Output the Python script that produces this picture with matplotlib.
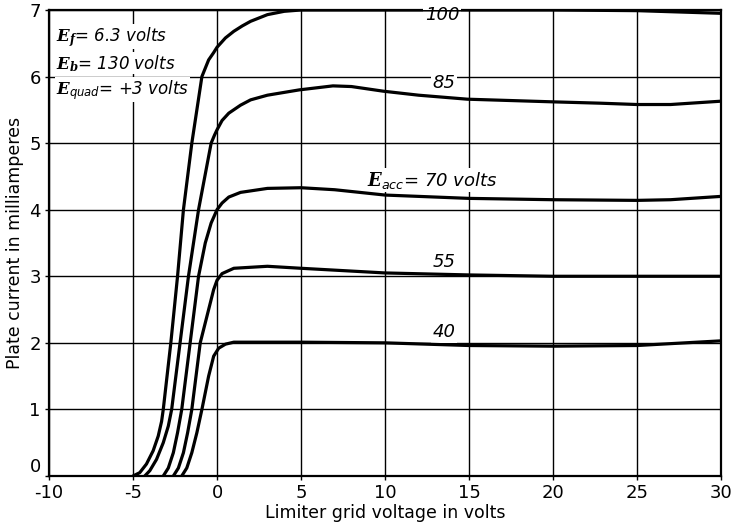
import matplotlib
matplotlib.use("Agg")
import matplotlib.pyplot as plt

# plate current (mA) vs limiter grid voltage (V), one curve per accelerator voltage
acc_volts = [100, 85, 70, 55, 40]

v100 = [-5.0, -4.6, -4.2, -3.8, -3.5, -3.3, -3.2, -2.75, -2.35, -2.0, -1.5, -0.9,
        -0.5, -0.2, 0.0, 0.5, 1.0, 1.5, 2.0, 3.0, 4.0, 5.0, 10, 15, 20, 25, 30]
i100 = [0.0, 0.05, 0.18, 0.38, 0.6, 0.82, 1.0, 2.0, 3.0, 4.0, 5.0, 6.0,
        6.25, 6.36, 6.44, 6.58, 6.68, 6.76, 6.83, 6.93, 6.98, 7.0, 7.0, 7.0, 7.0, 6.99, 6.95]

v85 = [-4.3, -4.0, -3.6, -3.2, -2.9, -2.7, -2.2, -1.7, -1.1, -0.35, -0.15, 0.0, 0.3,
       0.7, 1.4, 2.0, 3.0, 4.9, 6.9, 8.0, 9.9, 12, 14.9, 20, 22.8, 25, 27, 30]
i85 = [0.0, 0.08, 0.25, 0.5, 0.75, 1.0, 2.0, 3.0, 4.0, 5.0, 5.12, 5.2, 5.34,
       5.45, 5.57, 5.65, 5.72, 5.8, 5.86, 5.85, 5.78, 5.72, 5.66, 5.62, 5.6, 5.58, 5.58, 5.63]

v70 = [-3.2, -2.9, -2.6, -2.35, -2.1, -1.6, -1.1, -0.7, -0.35, 0.0, 0.3, 0.7,
       1.4, 3.0, 5.0, 7.0, 10, 15, 20, 25, 27, 30]
i70 = [0.0, 0.12, 0.35, 0.65, 1.0, 2.0, 3.0, 3.5, 3.8, 4.0, 4.1, 4.19,
       4.26, 4.32, 4.33, 4.3, 4.22, 4.17, 4.15, 4.14, 4.15, 4.2]

v55 = [-2.6, -2.3, -2.0, -1.75, -1.5, -1.0, -0.5, -0.2, 0.0, 0.3, 1.0, 3.0,
       5.0, 10, 15, 20, 25, 30]
i55 = [0.0, 0.12, 0.35, 0.65, 1.0, 2.0, 2.5, 2.8, 2.94, 3.04, 3.12, 3.15,
       3.12, 3.05, 3.02, 3.0, 3.0, 3.0]

v40 = [-2.1, -1.8, -1.5, -1.2, -0.9, -0.5, -0.2, 0.1, 0.5, 1.0, 5.0, 10, 15,
       20, 25, 30]
i40 = [0.0, 0.12, 0.35, 0.65, 1.0, 1.5, 1.8, 1.92, 1.98, 2.01, 2.01, 2.0, 1.96,
       1.95, 1.96, 2.03]

curves = [(v100, i100), (v85, i85), (v70, i70), (v55, i55), (v40, i40)]

# curve labels: text, x, y
curve_labels = ["100", "85", r"$E_{\mathrm{acc}}$= 70 volts", "55", "40"]
label_x = [13.4, 13.5, 12.8, 13.5, 13.5]
label_y = [6.92, 5.9, 4.44, 3.21, 2.16]

conditions = [r"$E_{f}$= 6.3 volts", r"$E_{b}$= 130 volts", r"$E_{\mathrm{quad}}$= +3 volts"]

xticks = [-10, -5, 0, 5, 10, 15, 20, 25, 30]
yticks = [0, 1, 2, 3, 4, 5, 6, 7]

plt.rcParams['mathtext.fontset'] = 'custom'
plt.rcParams['mathtext.it'] = 'DejaVu Serif:italic:bold'
plt.rcParams['mathtext.rm'] = 'DejaVu Sans:italic'

fig = plt.figure(figsize=(7.35, 5.31), dpi=100)
ax = fig.add_axes([0.0667, 0.1036, 0.9143, 0.8776])

for vx, iy in curves:
    ax.plot(vx, iy, color='black', lw=2.3, solid_capstyle='round', zorder=5)

ax.set_xlim(-10, 30)
ax.set_ylim(0, 7)
ax.set_xticks(xticks)
ax.set_yticks(yticks)
ax.set_xticklabels([str(t) for t in xticks], fontsize=13)
ax.set_yticklabels([str(t) for t in yticks], fontsize=13)
ax.get_yticklabels()[0].set_verticalalignment('bottom')
ax.tick_params(direction='out', length=3, width=1, pad=3)
ax.grid(True, color='black', lw=1.0)
ax.set_axisbelow(True)
for s in ax.spines.values():
    s.set_linewidth(1.6)

ax.set_xlabel('Limiter grid voltage in volts', fontsize=12.5, labelpad=1)
ax.set_ylabel('Plate current in milliamperes', fontsize=12.5, labelpad=4)

for txt, lx, ly in zip(curve_labels, label_x, label_y):
    ax.text(lx, ly, txt, fontsize=13, style='italic', ha='center', va='center', zorder=4,
            bbox=dict(facecolor='white', edgecolor='none', pad=1))

for k, txt in enumerate(conditions):
    ax.text(-9.6, 6.6 - 0.4 * k, txt, fontsize=12, style='italic', ha='left', va='center',
            zorder=4, bbox=dict(facecolor='white', edgecolor='none', pad=0.5))

fig.savefig('out.png', dpi=100)
